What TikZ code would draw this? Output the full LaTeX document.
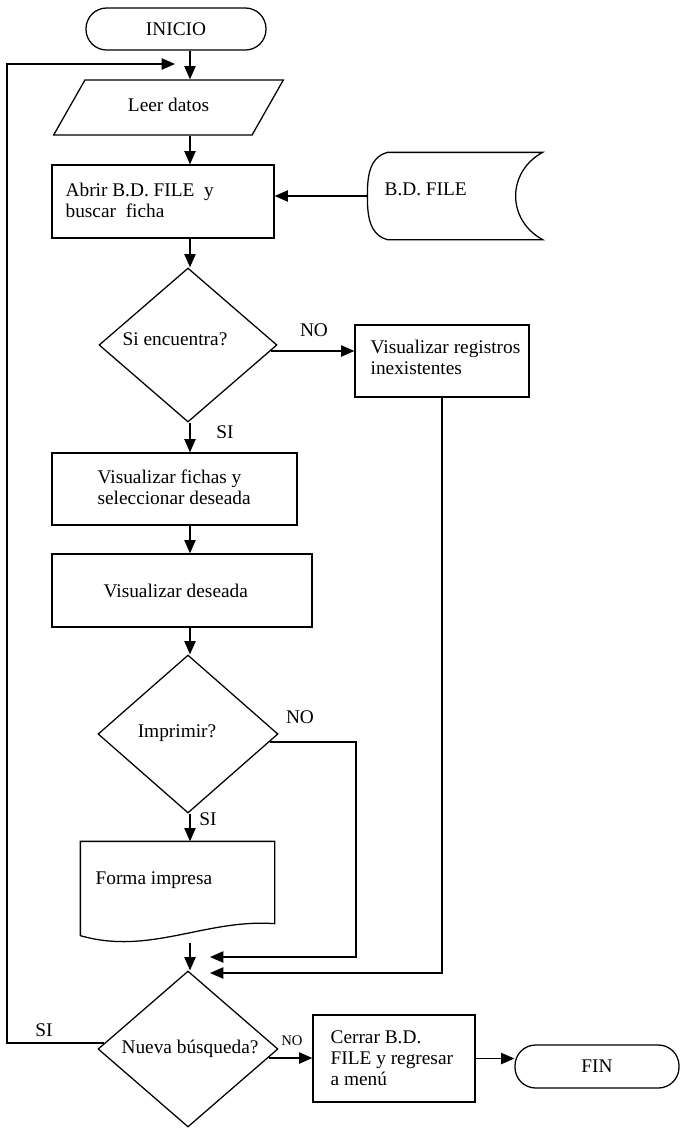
\documentclass[tikz,border=0pt]{standalone}
\usepackage{fontspec}
\setmainfont{Liberation Serif}
\usetikzlibrary{shapes.geometric,arrows.meta,calc}
\begin{document}
\begin{tikzpicture}[x=0.75pt,y=-0.75pt,line width=0.95pt,
  every node/.style={font=\fontsize{14.5}{15.75}\selectfont},
  arr/.style={-{Triangle[length=10pt,width=8.5pt]}},
  proc/.style={draw,rectangle,inner sep=0pt},
  term/.style={draw,rectangle,rounded corners=15.5pt,inner sep=0pt},
  dec/.style={draw,diamond,inner sep=0pt},
  ghost/.style={rectangle,inner sep=0pt},
  txt/.style={inner sep=0pt,align=left,anchor=west},
  lbl/.style={inner sep=0pt}]
\useasboundingbox (0,0) rectangle (680,1129);
\fill[white] (0,0) rectangle (680,1129);

% column helpers
\coordinate (col) at (190,0);
\coordinate (lx) at (7,0);
\coordinate (nx) at (356,0);
\coordinate (loopend) at (175,64);
\coordinate (in1) at (210,957);
\coordinate (in2) at (210,973);

% shapes
\node[term,minimum width=180*0.75pt,minimum height=42*0.75pt] (inicio) at (176,29) {INICIO};
\node[draw,trapezium,trapezium left angle=52,trapezium right angle=128,trapezium stretches=true,
      inner sep=0pt,minimum width=231*0.75pt,minimum height=55*0.75pt] (leer) at (168.5,107.5)
      {\raisebox{4.5pt}{Leer datos}\hspace{9pt}};
\node[proc,minimum width=222*0.75pt,minimum height=73*0.75pt] (abrir) at (163,201.5) {};
\node[ghost,minimum width=174*0.75pt,minimum height=86*0.75pt] (bd) at (455,196) {};
\draw ($(bd.north west)+(20,0)$) -- (bd.north east)
   .. controls ($(bd.east)+(-36,-24)$) and ($(bd.east)+(-36,24)$) .. (bd.south east)
   -- ($(bd.south west)+(20,0)$)
   .. controls ($(bd.south west)+(2,-5)$) and ($(bd.west)+(0,20)$) .. (bd.west)
   .. controls ($(bd.west)+(0,-20)$) and ($(bd.north west)+(2,5)$) .. cycle;
\node[dec,minimum width=178*0.75pt,minimum height=154*0.75pt] (d1) at (188,345) {};
\node[proc,minimum width=174*0.75pt,minimum height=72*0.75pt] (reg) at (442,361) {};
\node[proc,minimum width=245*0.75pt,minimum height=72*0.75pt] (fichas) at (174.5,489) {};
\node[proc,minimum width=260*0.75pt,minimum height=73*0.75pt] (deseada) at (182,590.5) {};
\node[dec,minimum width=180*0.75pt,minimum height=158*0.75pt] (d2) at (188,734) {};
\node[ghost,minimum width=193*0.75pt,minimum height=100*0.75pt] (doc) at (177.5,892) {};
\draw (doc.north west) -- (doc.north east) -- ($(doc.south east)+(0,-19)$)
   .. controls ($(doc.south east)+(-69,-24)$) and ($(doc.south west)+(69,13)$) .. ($(doc.south west)+(0,-7)$)
   -- cycle;
\node[dec,minimum width=180*0.75pt,minimum height=156*0.75pt] (d3) at (188,1049) {};
\node[proc,minimum width=162*0.75pt,minimum height=87*0.75pt] (cerrar) at (394,1058.5) {};
\node[term,minimum width=164*0.75pt,minimum height=43*0.75pt] (fin) at (597,1066.5) {FIN};

% texts
\node[txt] (abrirT) at (65,200) {Abrir B.D. FILE\ \ y\\buscar\ \ ficha};
\node[txt] (bdT) at (384,189) {B.D. FILE};
\node[lbl] (d1T) at (175,339) {Si encuentra?};
\node[txt] (regT) at (370,357) {Visualizar registros\\inexistentes};
\node[txt] (fichasT) at (97,487) {Visualizar fichas y\\seleccionar deseada};
\node[txt] (deseadaT) at (103,591) {Visualizar deseada};
\node[lbl] (d2T) at (177,733) {Imprimir?};
\node[txt] (docT) at (95,880) {Forma impresa};
\node[lbl] (d3T) at (190,1049) {Nueva búsqueda?};
\node[txt] (cerrarT) at (330,1058) {Cerrar B.D.\\FILE y regresar\\a menú};

% labels
\node[lbl] (no1) at (314,330) {NO};
\node[lbl] (si1) at (225,432) {SI};
\node[lbl] (no2) at (300,717) {NO};
\node[lbl] (si2) at (208,819) {SI};
\node[lbl] (si3) at (44,1030) {SI};
\node[lbl,font=\fontsize{11}{12}\selectfont] (no3) at (292,1041) {NO};

% connectors
\draw[arr] (inicio.south -| col) -- (leer.north -| col);
\draw[arr] (leer.south -| col) -- (abrir.north -| col);
\draw[arr] (bd.west) -- (bd.west -| abrir.east);
\draw[arr] (abrir.south -| col) -- (d1.north -| col);
\draw[arr] ($(d1.east)+(-7,6)$) coordinate (n1s) -- (n1s -| reg.west);
\draw[arr] (d1.south -| col) -- (fichas.north -| col);
\draw[arr] (fichas.south -| col) -- (deseada.north -| col);
\draw[arr] (deseada.south -| col) -- (d2.north -| col);
\draw[arr] (d2.south -| col) -- (doc.north -| col);
\draw[arr] ($(d2.east)+(-9,8)$) coordinate (n2s) -- (n2s -| nx) -- (nx |- in1) -- (in1);
\draw[arr] (reg.south) -- (reg.south |- in2) -- (in2);
\draw[arr] (doc.south -| col) -- (d3.north -| col);
\draw[arr] ($(d3.west)+(7,-6)$) coordinate (s3s) -- (s3s -| lx) -- (lx |- loopend) -- (loopend);
\draw[arr] ($(d3.east)+(-10,9)$) coordinate (n3s) -- (n3s -| cerrar.west);
\draw[arr] (cerrar.east) -- (cerrar.east -| fin.west);
\end{tikzpicture}
\end{document}
